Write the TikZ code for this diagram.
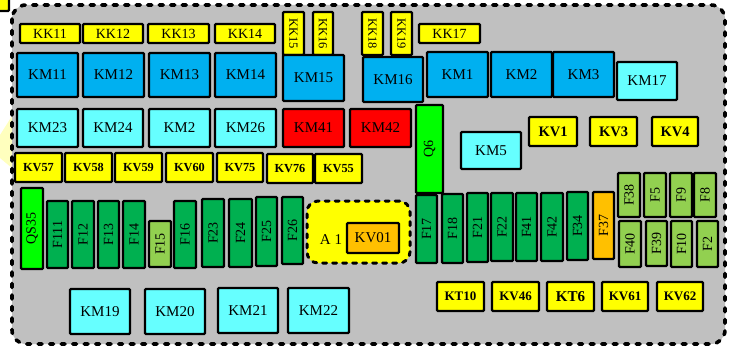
\documentclass[tikz,border=0pt]{standalone}
\usepackage{fontspec}
\setmainfont{Liberation Serif}
\definecolor{kmblue}{RGB}{0,176,240}
\definecolor{kmcyan}{RGB}{102,255,255}
\definecolor{kred}{RGB}{255,0,0}
\definecolor{kyel}{RGB}{255,255,0}
\definecolor{kgreen}{RGB}{0,255,0}
\definecolor{fdark}{RGB}{0,176,80}
\definecolor{flight}{RGB}{146,208,80}
\definecolor{korange}{RGB}{255,192,0}
\definecolor{bggray}{RGB}{192,192,192}
\definecolor{paleyel}{RGB}{255,255,190}
\tikzset{
  box/.style={draw=black, line width=2.4pt, rounded corners=1pt, inner sep=0pt, text=black},
  km/.style={box, fill=kmblue, font=\fontsize{15}{15}\selectfont},
  kc/.style={box, fill=kmcyan, font=\fontsize{15}{15}\selectfont},
  kr/.style={box, fill=kred, font=\fontsize{15}{15}\selectfont},
  kk/.style={box, fill=kyel, font=\fontsize{14}{14}\selectfont},
  kkv/.style={box, fill=kyel, font=\fontsize{12.5}{12.5}\selectfont},
  kv/.style={box, fill=kyel, font=\fontsize{12.3}{12.3}\selectfont\bfseries},
  kvb/.style={box, fill=kyel, font=\fontsize{14.5}{14.5}\selectfont\bfseries},
  fd/.style={box, fill=fdark, font=\fontsize{14}{14}\selectfont},
  fl/.style={box, fill=flight, font=\fontsize{14}{14}\selectfont},
  fo/.style={box, fill=korange, font=\fontsize{14}{14}\selectfont},
  qg/.style={box, fill=kgreen, font=\fontsize{14}{14}\selectfont},
}
% horizontal box: name, style, x1, y1, x2, y2, text
\newcommand\Bx[7]{\node[#2, minimum width={(#5-#3)*1pt}, minimum height={(#6-#4)*1pt}] (#1) at ({(#3+#5)/2},{(#4+#6)/2}) {#7};}
% vertical box, text reading upward
\newcommand\By[7]{\node[#2, rotate=90, minimum height={(#5-#3)*1pt}, minimum width={(#6-#4)*1pt}] (#1) at ({(#3+#5)/2},{(#4+#6)/2}) {#7};}
% vertical box, text reading downward
\newcommand\Bz[7]{\node[#2, rotate=-90, minimum height={(#5-#3)*1pt}, minimum width={(#6-#4)*1pt}] (#1) at ({(#3+#5)/2},{(#4+#6)/2}) {#7};}
\begin{document}
\begin{tikzpicture}[x=1pt,y=-1pt]
\useasboundingbox (0,0) rectangle (730,350);
% partial elements at the edge
\fill[paleyel] (0,135) -- (12,116) -- (12,168) -- (0,158) -- cycle;
\draw[box, fill=kyel] (-5,-5) rectangle (9,11);
% outer dashed panel
\draw[fill=bggray, line width=3.6pt, line cap=round, dash pattern=on 4pt off 7.5pt, rounded corners=14pt] (12,5) rectangle (725,344);
% KK row
\Bx{kk11}{kk}{20}{24}{80}{43}{KK11}
\Bx{kk12}{kk}{83}{24}{143}{43}{KK12}
\Bx{kk13}{kk}{148}{24}{209}{43}{KK13}
\Bx{kk14}{kk}{215}{24}{275}{43}{KK14}
\Bz{kk15}{kkv}{283}{12}{304}{55}{KK15}
\Bz{kk16}{kkv}{313}{12}{333}{55}{KK16}
\Bz{kk18}{kkv}{362}{12}{383}{55}{KK18}
\Bz{kk19}{kkv}{391}{12}{412}{55}{KK19}
\Bx{kk17}{kk}{419}{24}{480}{43}{KK17}
% KM row 1
\Bx{km11}{km}{17}{53}{78}{97}{KM11}
\Bx{km12}{km}{83}{53}{144}{97}{KM12}
\Bx{km13}{km}{149}{53}{210}{97}{KM13}
\Bx{km14}{km}{215}{53}{276}{97}{KM14}
\Bx{km15}{km}{283}{55}{344}{101}{KM15}
\Bx{km16}{km}{363}{57}{423}{102}{KM16}
\Bx{km1}{km}{427}{52}{488}{97}{KM1}
\Bx{km2}{km}{491}{52}{552}{97}{KM2}
\Bx{km3}{km}{553}{52}{614}{97}{KM3}
\Bx{km17}{kc}{617}{62}{677}{100}{KM17}
% KM row 2
\Bx{km23}{kc}{17}{109}{78}{147}{KM23}
\Bx{km24}{kc}{83}{109}{143}{147}{KM24}
\Bx{km2b}{kc}{149}{109}{210}{147}{KM2}
\Bx{km26}{kc}{215}{109}{276}{147}{KM26}
\Bx{km41}{kr}{283}{109}{344}{147}{KM41}
\Bx{km42}{kr}{350}{109}{411}{147}{KM42}
\By{q6}{qg}{416}{105}{443}{193}{Q6}
\Bx{km5}{kc}{461}{132}{521}{169}{KM5}
\Bx{kv1}{kvb}{529}{117}{577}{146}{KV1}
\Bx{kv3}{kvb}{590}{117}{637}{146}{KV3}
\Bx{kv4}{kvb}{652}{117}{698}{146}{KV4}
% KV row
\Bx{kv57}{kv}{15}{153}{62}{182}{KV57}
\Bx{kv58}{kv}{65}{153}{112}{182}{KV58}
\Bx{kv59}{kv}{115}{153}{162}{182}{KV59}
\Bx{kv60}{kv}{166}{153}{213}{182}{KV60}
\Bx{kv75}{kv}{217}{153}{263}{182}{KV75}
\Bx{kv76}{kv}{267}{154}{313}{183}{KV76}
\Bx{kv55}{kv}{315}{154}{362}{183}{KV55}
% fuse row
\By{qs35}{qg}{21}{188}{43}{269}{QS35}
\By{f111}{fd}{47}{201}{68}{268}{F111}
\By{f12}{fd}{72}{201}{94}{268}{F12}
\By{f13}{fd}{98}{201}{119}{268}{F13}
\By{f14}{fd}{123}{201}{145}{268}{F14}
\By{f15}{fl}{149}{221}{171}{267}{F15}
\By{f16}{fd}{174}{201}{196}{268}{F16}
\By{f23}{fd}{202}{199}{224}{267}{F23}
\By{f24}{fd}{229}{199}{252}{267}{F24}
\By{f25}{fd}{256}{197}{277}{266}{F25}
\By{f26}{fd}{282}{197}{303}{264}{F26}
% A1 group
\node[draw=black, fill=kyel, line width=3pt, line cap=round, dash pattern=on 4pt off 6pt, rounded corners=11pt, minimum width=103pt, minimum height=62pt, inner sep=0pt] (a1) at (358.5,232) {};
\node[font=\fontsize{15}{15}\selectfont, anchor=center] (a1lab) at (331,240) {A 1};
\Bx{kv01}{fo}{347}{223}{399}{253}{\fontsize{15}{15}\selectfont KV01}
\By{f17}{fd}{416}{195}{437}{263}{F17}
\By{f18}{fd}{442}{194}{463}{263}{F18}
\By{f21}{fd}{467}{193}{488}{262}{F21}
\By{f22}{fd}{491}{193}{513}{261}{F22}
\By{f41}{fd}{516}{193}{537}{261}{F41}
\By{f42}{fd}{541}{193}{563}{261}{F42}
\By{f34}{fd}{567}{192}{588}{260}{F34}
\By{f37}{fo}{593}{192}{614}{259}{F37}
\By{f38}{fl}{618}{173}{640}{217}{F38}
\By{f5}{fl}{644}{173}{666}{217}{F5}
\By{f9}{fl}{670}{173}{692}{217}{F9}
\By{f8}{fl}{694}{173}{716}{217}{F8}
\By{f40}{fl}{619}{221}{641}{267}{F40}
\By{f39}{fl}{646}{221}{667}{266}{F39}
\By{f10}{fl}{671}{221}{692}{267}{F10}
\By{f2}{fl}{697}{221}{718}{267}{F2}
% bottom row
\Bx{km19}{kc}{70}{289}{130}{334}{KM19}
\Bx{km20}{kc}{145}{289}{205}{334}{KM20}
\Bx{km21}{kc}{218}{288}{278}{333}{KM21}
\Bx{km22}{kc}{288}{288}{349}{333}{KM22}
\Bx{kt10}{kv}{437}{282}{484}{311}{\fontsize{13}{13}\selectfont KT10}
\Bx{kv46}{kv}{492}{282}{539}{311}{\fontsize{13}{13}\selectfont KV46}
\Bx{kt6}{kv}{547}{282}{594}{311}{\fontsize{15}{15}\selectfont KT6}
\Bx{kv61}{kv}{602}{282}{648}{311}{\fontsize{13}{13}\selectfont KV61}
\Bx{kv62}{kv}{657}{282}{703}{311}{\fontsize{13}{13}\selectfont KV62}
\end{tikzpicture}
\end{document}
